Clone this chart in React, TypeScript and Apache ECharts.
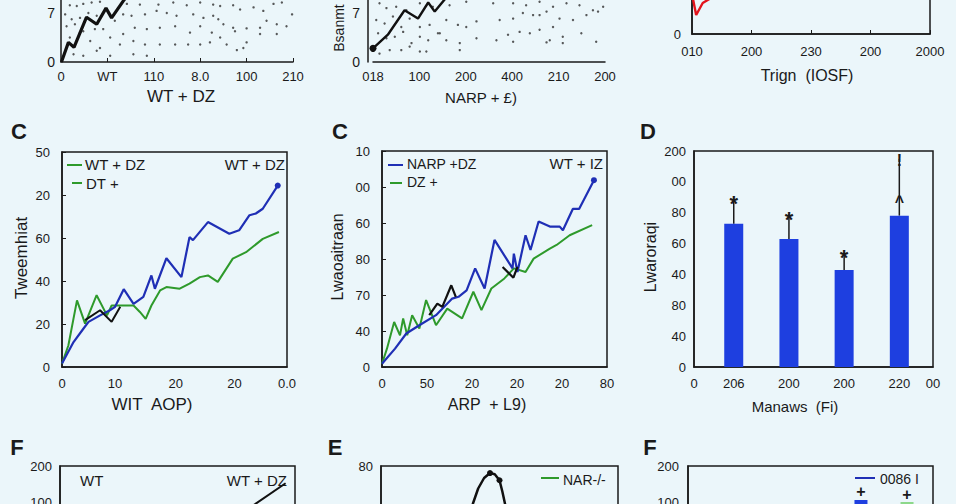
import React, { useEffect, useRef } from "react";
import * as echarts from "echarts";

const FONT = "'Liberation Sans', Arial, sans-serif";
const INK = "#1a1a1a";
const BG = "#ebf6fa";
const BLUE = "#1f2fb5";
const GREEN = "#2e9a2b";
const BARBLUE = "#1e3fe0";
const LIGHTGREEN = "#8cd88a";
const RED = "#e3141c";

// ---------- Panel A (top-left) ----------
const aXTicks = [0, 1, 2, 3, 4, 5];
const aXLabels = ["0", "WT", "110", "8.0", "100", "210"];
const aYTicks = [0, 7];
const aYLabels = ["0", "7"];
const aLine: number[][] = [[0.01, 0], [0.16, 2.8], [0.28, 2.1], [0.55, 6.4], [0.77, 5.4], [0.97, 7.7], [1.09, 6.3], [1.34, 8.7], [1.56, 10.6]];
const aDots: number[][] = [
  [0.19, 8.1], [0.34, 8.0], [0.48, 8.3], [0.66, 8.5], [0.84, 8.6], [1.42, 8.3], [1.7, 8.2], [2.1, 8.2], [2.42, 8.5], [2.71, 8.1],
  [3.0, 8.5], [3.28, 8.2], [3.43, 8.0], [3.71, 8.1], [3.86, 7.5], [4.15, 7.8], [4.36, 7.3], [4.58, 8.3], [4.76, 8.5], [4.98, 6.8],
  [0.09, 6.8], [0.23, 6.1], [0.41, 6.3], [0.59, 7.0], [0.77, 6.6], [0.91, 4.7], [1.16, 5.9], [1.34, 6.8], [1.52, 6.6], [1.81, 6.8],
  [2.06, 7.3], [2.28, 7.0], [2.49, 6.6], [2.85, 6.8], [3.07, 6.3], [3.28, 6.6], [3.39, 6.1], [3.5, 5.4], [3.71, 4.9], [4.0, 4.8],
  [4.29, 4.9], [4.43, 5.9], [4.65, 5.4], [4.86, 5.1], [0.12, 5.1], [0.3, 5.4], [0.48, 4.4], [0.73, 4.7], [1.06, 3.5], [1.34, 4.0],
  [1.59, 4.9], [1.85, 4.7], [2.13, 4.9], [2.46, 5.1], [2.78, 4.2], [3.0, 5.1], [3.25, 4.2], [3.43, 3.5], [3.75, 4.4], [4.0, 2.8],
  [4.29, 4.0], [4.65, 4.0], [0.19, 3.5], [0.41, 4.2], [0.63, 3.0], [0.84, 2.0], [1.06, 0.9], [1.27, 2.5], [1.56, 3.0], [1.81, 2.5],
  [2.13, 2.5], [2.46, 2.5], [2.74, 2.5], [3.0, 2.5], [3.21, 2.8], [3.57, 2.5], [3.79, 1.7], [3.93, 2.0], [0.27, 1.1], [0.48, 0.9],
  [0.77, 1.6], [1.56, 1.1], [1.85, 0.9],
];

// ---------- Panel B (top-middle) ----------
const bXTicks = [0, 1, 2, 3, 4, 5];
const bXLabels = ["018", "100", "200", "400", "210", "200"];
const bLine: number[][] = [[0, 1.95], [0.32, 3.9], [0.68, 7.4], [0.97, 6.2], [1.19, 8.5], [1.33, 7.2], [1.54, 8.9], [1.9, 11]];
const bDots: number[][] = [
  [0.14, 8.4], [0.29, 7.7], [0.5, 7.9], [0.72, 7.4], [1.01, 8.4], [1.29, 7.9], [1.65, 8.1], [2.01, 8.6], [2.59, 8.4], [3.02, 8.4],
  [3.3, 8.1], [3.59, 8.6], [3.88, 7.9], [4.17, 8.4], [4.45, 8.1], [4.74, 7.4], [4.96, 7.9], [0.07, 6.0], [0.25, 5.5], [0.43, 6.5],
  [0.61, 5.0], [0.79, 6.2], [1.01, 5.0], [1.22, 5.3], [1.44, 4.1], [1.58, 6.0], [1.83, 5.3], [2.01, 5.0], [2.23, 5.8], [2.73, 6.0],
  [3.02, 6.2], [3.23, 7.0], [3.45, 6.7], [3.59, 6.7], [3.74, 7.2], [3.88, 5.0], [4.02, 6.2], [4.31, 6.0], [4.6, 6.7], [4.85, 7.2],
  [0.11, 4.1], [0.29, 3.4], [0.47, 3.6], [0.65, 4.3], [0.83, 2.7], [1.01, 3.6], [1.19, 3.1], [1.4, 4.1], [1.58, 3.1], [1.87, 2.7],
  [2.23, 3.4], [2.66, 3.1], [2.91, 3.9], [3.16, 4.3], [3.38, 4.1], [3.59, 4.6], [3.81, 3.1], [4.09, 3.6], [4.49, 4.1], [4.81, 2.9],
  [0.14, 1.2], [0.36, 1.7], [0.61, 1.7], [0.79, 2.2], [1.01, 1.5], [1.15, 1.5], [1.87, 1.7], [3.02, 2.9], [3.74, 2.8], [4.09, 2.7],
];

// ---------- Panel top-right ----------
const rXTicks = [0, 1, 2, 3, 4];
const rXLabels = ["010", "200", "230", "200", "2000"];
const rYTicks = [0];
const rYLabels = ["0"];
const rLine: number[][] = [[0, 20], [0.07, 9.5], [0.18, 15.5], [0.32, 18], [0.4, 25]];

// ---------- Panel C (middle-left) ----------
const c1XTicks = [0, 9.2, 19.7, 29.9, 39];
const c1XLabels = ["0", "10", "20", "20", "0.0"];
const c1YTicks = [0, 10, 20, 30, 40, 50];
const c1YLabels = ["0", "20", "40", "60", "20", "50"];
const c1Blue: number[][] = [[0, 0.8], [2.0, 5.8], [3.7, 8.9], [4.6, 10.5], [6.6, 12.0], [8.3, 13.2], [9.2, 14.0], [10.7, 18.1], [12.4, 14.7], [14.1, 16.3], [15.5, 21.3], [16.1, 18.2], [18.1, 25.3], [20.7, 20.9], [22.1, 30.2], [22.7, 29.5], [25.3, 33.7], [29.0, 31.0], [30.7, 31.8], [32.5, 35.3], [33.6, 35.7], [34.8, 36.8], [37.4, 42.2]];
const c1Green: number[][] = [[0, 0.8], [1.1, 5.0], [2.6, 15.5], [4.0, 10.1], [6.0, 16.7], [7.8, 12.0], [8.6, 14.3], [10.1, 14.3], [12.4, 14.3], [13.5, 12.8], [14.5, 11.2], [15.5, 14.3], [17.0, 17.8], [18.1, 18.6], [20.4, 18.2], [22.1, 19.4], [23.9, 20.9], [25.3, 21.3], [27.0, 19.8], [29.6, 25.2], [31.9, 26.7], [34.8, 29.8], [37.6, 31.4]];
const c1Black: number[][] = [[4.0, 10.9], [6.6, 13.2], [8.6, 10.5], [10.1, 14.0]];

// ---------- Panel C (middle-centre) ----------
const c2XTicks = [0, 10, 20, 30, 40, 50];
const c2XLabels = ["0", "50", "20", "20", "20", "80"];
const c2YTicks = [0, 10, 20, 30, 40, 50, 60];
const c2YLabels = ["0", "40", "70", "80", "60", "00", "10"];
const c2Blue: number[][] = [[0, 0.9], [2.9, 5.1], [5.4, 9.3], [8.3, 11.6], [12.0, 14.4], [15.6, 19.0], [17.0, 19.5], [18.8, 21.3], [20.7, 27.4], [22.8, 21.8], [25.0, 35.3], [29.0, 27.4], [29.3, 31.5], [30.1, 26.4], [31.9, 36.6], [33.0, 32.5], [34.8, 40.4], [37.3, 39.0], [39.5, 39.0], [40.2, 38.0], [42.4, 43.9], [43.8, 43.9], [47.1, 51.9]];
const c2Green: number[][] = [[0, 0.9], [1.1, 5.1], [2.7, 12.5], [4.0, 8.8], [4.7, 13.5], [5.6, 8.8], [6.7, 14.4], [8.3, 10.7], [9.8, 18.6], [12.0, 11.6], [14.5, 16.2], [17.8, 13.5], [20.3, 20.9], [22.1, 15.8], [24.3, 21.8], [27.2, 24.6], [29.3, 27.4], [31.9, 26.4], [33.7, 30.1], [37.3, 32.9], [38.8, 33.9], [41.7, 36.6], [46.7, 39.4]];
const c2Black: (number[] | string)[] = [[10.5, 14.4], [12.3, 17.6], [13.4, 16.7], [15.4, 22.7], [16.4, 19.5], "-", [26.8, 27.8], [29.2, 24.8], [30.1, 27.8]];

// ---------- Panel D (middle-right) ----------
const dXTicks = [-0.72, 0, 1, 2, 3, 3.61];
const dXLabels = ["0", "206", "200", "200", "220", "00"];
const dYTicks = [0, 20, 40, 60, 80, 100, 120, 140];
const dYLabels = ["0", "40", "80", "40", "60", "80", "00", "200"];
const dPos = [0, 1, 2, 3];
const dMeans = [92.8, 83, 62.8, 98.1];
const dUpper = [109, 99, 74, 135];
const dMarks = ["*", "*", "*", "!"];
const dArrowAt = [0, 0, 0, 110];

// ---------- Bottom panels ----------
const fYTicks = [100, 200];
const fYLabels = ["100", "200"];
const eYTicks = [80];
const eYLabels = ["80"];
const fLine: number[][] = [[9.6, 152], [8.3, 94], [7.0, 40]];
const eCurve: number[][] = [[3.6, 44], [3.88, 55], [4.1, 65], [4.35, 72], [4.6, 75.3], [4.8, 74.5], [5.0, 70.5], [5.12, 63], [5.23, 55], [5.35, 46]];
const eDotIdx = [4, 6];
const gBarPos = [7.06, 8.94];
const gBarVals = [105.6, 100];
const gPlus = [128, 122];

const fmt = (ticks: number[], labels: string[]) => (v: number) => {
  const i = ticks.findIndex((t) => Math.abs(t - v) < 1e-6);
  return i >= 0 ? labels[i] : "";
};

function axis(gridIndex: number, o: any) {
  return {
    type: "value",
    gridIndex,
    min: o.min,
    max: o.max,
    interval: o.interval,
    offset: o.offset || 0,
    axisLine: { show: true, onZero: false, lineStyle: { color: INK, width: 1.5 } },
    axisTick: o.ticks
      ? { show: true, inside: true, length: 4, lineStyle: { color: INK }, customValues: o.custom }
      : { show: false },
    axisLabel: {
      show: o.labels !== false,
      color: INK,
      fontSize: o.fontSize || 13,
      fontFamily: FONT,
      margin: o.margin ?? 8,
      formatter: o.fmt,
      customValues: o.custom,
      showMinLabel: true,
      showMaxLabel: true,
    },
    splitLine: { show: false },
  };
}

const free = { outerBoundsMode: "none", containLabel: false };
const box = { ...free, show: true, borderColor: INK, borderWidth: 1.5, backgroundColor: "transparent" };

function T(text: string, x: number, y: number, o: any = {}) {
  return {
    type: "text",
    x,
    y,
    rotation: o.rot || 0,
    style: {
      text,
      fill: o.fill || INK,
      font: `${o.weight || "normal"} ${o.size || 15}px ${FONT}`,
      align: o.align || "center",
      verticalAlign: "middle",
    },
  };
}
function L(x1: number, y1: number, x2: number, y2: number, color: string) {
  return { type: "line", shape: { x1, y1, x2, y2 }, style: { stroke: color, lineWidth: 2 } };
}

function lineSeries(data: any[], xi: number, color: string, width: number, endDot = false, dotIdx: number[] = []) {
  return {
    type: "line",
    xAxisIndex: xi,
    yAxisIndex: xi,
    data: data.map((p, i) =>
      typeof p === "string"
        ? p
        : { value: p, symbolSize: (endDot && i === data.length - 1) || dotIdx.includes(i) ? 6 : 0 }
    ),
    symbol: "circle",
    showSymbol: true,
    showAllSymbol: true,
    itemStyle: { color },
    lineStyle: { color, width },
    connectNulls: false,
    silent: true,
  };
}

function buildOption() {
  return {
    animation: false,
    backgroundColor: BG,
    textStyle: { fontFamily: FONT },
    grid: [
      { left: 61, top: -85, width: 232, height: 147, ...free },
      { left: 373, top: -85, width: 232, height: 147, ...free },
      { left: 692, top: -166, width: 238, height: 200, ...box },
      { left: 62, top: 152, width: 225, height: 215, ...box },
      { left: 382, top: 151, width: 225, height: 216, ...box },
      { left: 694, top: 151, width: 239, height: 216, ...box },
      { left: 60, top: 466, width: 235, height: 72, ...box },
      { left: 381, top: 466, width: 237, height: 120, ...box },
      { left: 688, top: 466, width: 245, height: 72, ...box },
    ],
    xAxis: [
      axis(0, { min: 0, max: 5, interval: 1, fmt: fmt(aXTicks, aXLabels), margin: 8, ticks: true }),
      axis(1, { min: 0, max: 5, interval: 1, fmt: fmt(bXTicks, bXLabels), margin: 8 }),
      axis(2, { min: 0, max: 4, interval: 1, fmt: fmt(rXTicks, rXLabels), margin: 11, ticks: true }),
      axis(3, { min: 0, max: 39, custom: c1XTicks, fmt: fmt(c1XTicks, c1XLabels), margin: 10 }),
      axis(4, { min: 0, max: 50, interval: 10, fmt: fmt(c2XTicks, c2XLabels), margin: 10 }),
      axis(5, { min: -0.72, max: 3.61, custom: dXTicks, fmt: fmt(dXTicks, dXLabels), margin: 10 }),
      axis(6, { min: 0, max: 10, interval: 1, labels: false }),
      axis(7, { min: 0, max: 10, interval: 1, labels: false }),
      axis(8, { min: 0, max: 10, interval: 1, labels: false }),
    ],
    yAxis: [
      axis(0, { min: 0, max: 21, interval: 7, fmt: fmt(aYTicks, aYLabels), margin: 6, fontSize: 14 }),
      axis(1, { min: 0, max: 21, interval: 7, fmt: fmt(aYTicks, aYLabels), margin: 8, offset: 5, fontSize: 14 }),
      axis(2, { min: 0, max: 100, interval: 100, fmt: fmt(rYTicks, rYLabels), margin: 11 }),
      axis(3, { min: 0, max: 50, interval: 10, fmt: fmt(c1YTicks, c1YLabels), margin: 12, ticks: true }),
      axis(4, { min: 0, max: 60, interval: 10, fmt: fmt(c2YTicks, c2YLabels), margin: 12, ticks: true }),
      axis(5, { min: 0, max: 140, interval: 20, fmt: fmt(dYTicks, dYLabels), margin: 8 }),
      axis(6, { min: 0, max: 200, interval: 100, fmt: fmt(fYTicks, fYLabels), margin: 8 }),
      axis(7, { min: 0, max: 80, interval: 80, fmt: fmt(eYTicks, eYLabels), margin: 8 }),
      axis(8, { min: 0, max: 200, interval: 100, fmt: fmt(fYTicks, fYLabels), margin: 9 }),
    ],
    series: [
      // Panel A
      { type: "scatter", xAxisIndex: 0, yAxisIndex: 0, data: aDots, symbolSize: 2.4, itemStyle: { color: "#3c3c3c", opacity: 0.85 }, silent: true },
      lineSeries(aLine, 0, "#111111", 3.2),
      // Panel B
      { type: "scatter", xAxisIndex: 1, yAxisIndex: 1, data: bDots, symbolSize: 2.4, itemStyle: { color: "#3c3c3c", opacity: 0.85 }, silent: true },
      { ...lineSeries(bLine, 1, "#111111", 2.4), data: bLine.map((p, i) => ({ value: p, symbolSize: i === 0 ? 7 : 0 })) },
      // top-right
      lineSeries(rLine, 2, RED, 2.4),
      // C left
      lineSeries(c1Green, 3, GREEN, 2),
      lineSeries(c1Blue, 3, BLUE, 2.2, true),
      lineSeries(c1Black, 3, "#111111", 2),
      // C middle
      lineSeries(c2Green, 4, GREEN, 2),
      lineSeries(c2Blue, 4, BLUE, 2.2, true),
      lineSeries(c2Black, 4, "#111111", 2.2),
      // D
      {
        type: "bar",
        xAxisIndex: 5,
        yAxisIndex: 5,
        barWidth: 19,
        data: dPos.map((p, i) => [p, dMeans[i]]),
        itemStyle: { color: BARBLUE },
        silent: true,
      },
      {
        type: "custom",
        xAxisIndex: 5,
        yAxisIndex: 5,
        data: dPos.map((p, i) => [p, dMeans[i], dUpper[i], i, dArrowAt[i]]),
        renderItem: (_params: any, api: any) => {
          const x = api.value(0);
          const i = api.value(3);
          const p0 = api.coord([x, api.value(1)]);
          const p1 = api.coord([x, api.value(2)]);
          const children: any[] = [
            { type: "line", shape: { x1: p0[0], y1: p0[1], x2: p1[0], y2: p1[1] }, style: { stroke: INK, lineWidth: 1.5 } },
            {
              type: "text",
              x: p1[0],
              y: p1[1] + (dMarks[i] === "*" ? 5 : 2),
              style: { text: dMarks[i], fill: INK, font: `bold ${dMarks[i] === "*" ? 22 : 16}px ${FONT}`, align: "center", verticalAlign: "middle" },
            },
          ];
          const arrow = api.value(4);
          if (arrow > 0) {
            const pa = api.coord([x, arrow]);
            children.push({
              type: "text",
              x: pa[0],
              y: pa[1] + 4,
              style: { text: "^", fill: INK, font: `bold 16px ${FONT}`, align: "center", verticalAlign: "middle" },
            });
          }
          return { type: "group", children };
        },
        silent: true,
      },
      // F left
      lineSeries(fLine, 6, "#111111", 2),
      // E
      lineSeries(eCurve, 7, "#111111", 2.5, false, eDotIdx),
      // F right
      {
        type: "bar",
        xAxisIndex: 8,
        yAxisIndex: 8,
        barWidth: 13,
        data: gBarPos.map((p, i) => ({ value: [p, gBarVals[i]], itemStyle: { color: i === 0 ? BARBLUE : LIGHTGREEN } })),
        silent: true,
      },
      {
        type: "custom",
        xAxisIndex: 8,
        yAxisIndex: 8,
        data: gBarPos.map((p, i) => [p, gPlus[i]]),
        renderItem: (_params: any, api: any) => {
          const pt = api.coord([api.value(0), api.value(1)]);
          return {
            type: "text",
            x: pt[0],
            y: pt[1],
            style: { text: "+", fill: INK, font: `bold 16px ${FONT}`, align: "center", verticalAlign: "middle" },
          };
        },
        silent: true,
      },
    ],
    graphic: [
      // panel letters
      T("C", 19, 131, { size: 22, weight: "bold" }),
      T("C", 340, 131, { size: 22, weight: "bold" }),
      T("D", 648, 131, { size: 22, weight: "bold" }),
      T("F", 17, 447, { size: 22, weight: "bold" }),
      T("E", 335, 447, { size: 22, weight: "bold" }),
      T("F", 650, 447, { size: 22, weight: "bold" }),
      // axis names
      T("WT + DZ", 181, 96, { size: 17 }),
      T("NARP + £)", 481, 97, { size: 15 }),
      T("Trign  (IOSF)", 807, 75, { size: 16 }),
      T("WIT  AOP)", 152, 404, { size: 17 }),
      T("ARP  + L9)", 487, 404, { size: 16 }),
      T("Manaws  (Fi)", 795, 406, { size: 15 }),
      T("Bsanmt", 339, 28, { size: 14, rot: Math.PI / 2 }),
      T("Tweemhiat", 21, 258, { size: 17, rot: Math.PI / 2 }),
      T("Lwaoaitraan", 337, 257, { size: 16, rot: Math.PI / 2 }),
      T("Lwaroraqi", 650, 257, { size: 16, rot: Math.PI / 2 }),
      // C left legend
      L(67, 165, 82, 165, GREEN),
      T("WT + DZ", 85, 164, { size: 15, align: "left" }),
      L(72, 183, 82, 183, GREEN),
      T("DT +", 86, 183, { size: 15, align: "left" }),
      T("WT + DZ", 285, 164, { size: 15, align: "right" }),
      // C middle legend
      L(388, 165, 403, 165, BLUE),
      T("NARP +DZ", 407, 164, { size: 14, align: "left" }),
      L(390, 183, 402, 183, GREEN),
      T("DZ +", 407, 182, { size: 14, align: "left" }),
      T("WT + IZ", 603, 163, { size: 15, align: "right" }),
      // bottom panels
      T("WT", 80, 480, { size: 15, align: "left" }),
      T("WT + DZ", 287, 480, { size: 15, align: "right" }),
      L(541, 478, 559, 478, GREEN),
      T("NAR-/-", 563, 480, { size: 14, align: "left" }),
      L(855, 478, 875, 478, BLUE),
      T("0086 I", 880, 479, { size: 14, align: "left" }),
    ],
  };
}

export default function App() {
  const ref = useRef<HTMLDivElement>(null);
  useEffect(() => {
    if (!ref.current) return;
    const chart = echarts.init(ref.current, null, { renderer: "svg" });
    chart.setOption(buildOption() as any);
    return () => chart.dispose();
  }, []);
  return <div ref={ref} style={{ position: "fixed", left: 0, top: 0, width: 956, height: 504 }} />;
}
